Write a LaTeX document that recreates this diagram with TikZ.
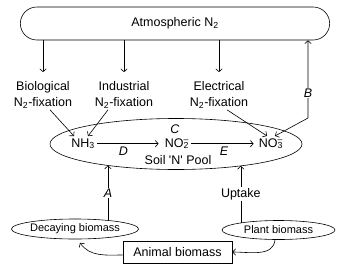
\documentclass[tikz,border=0pt]{standalone}
\usepackage{fontspec}
\setmainfont{Liberation Sans}
\usetikzlibrary{positioning, shapes.geometric, shapes.misc, arrows.meta}

\newcommand{\nox}[1]{NO\rlap{\textsuperscript{--}}\textsubscript{#1}}

\begin{document}
\begin{tikzpicture}[
  x=1pt, y=1pt,
  font=\fontsize{12.5}{16}\selectfont,
  line width=0.6pt,
  >={Straight Barb[length=3pt,width=6.5pt]},
  pool/.style={ellipse, draw, inner sep=0pt},
  small/.style={font=\fontsize{11}{13}\selectfont},
  fix/.style={align=center, inner sep=1pt},
  ion/.style={anchor=base, inner sep=2pt},
  arr/.style={->},
  gap/.style={fill=white, inner sep=1pt},
]
\useasboundingbox (0,0) rectangle (337,269);

\node[rounded rectangle, draw, minimum width=316, minimum height=33] (atm) at (175,245.5) {Atmospheric N\textsubscript{2}};

\node[fix] (bio) at (43,174) {Biological\\N\textsubscript{2}-fixation};
\node[fix] (ind) at (124,174) {Industrial\\N\textsubscript{2}-fixation};
\node[fix] (ele) at (219,174) {Electrical\\N\textsubscript{2}-fixation};

\foreach \n in {bio,ind,ele} \draw[arr] (atm.south -| \n) -- ([yshift=8pt]\n.north);

% soil pool
\node[pool, minimum width=252, minimum height=51] (soil) at (176,125) {};
\node[ion] (nh3) at (83,122) {NH\textsubscript{3}};
\node[ion] (no2) at (177,122) {\nox{2}};
\node[ion] (no3) at (271,122) {\nox{3}};
\node (c) at (175,140) {\textit{C}};
\node (pooltxt) at (178,109) {Soil \textquotesingle N\textquotesingle{} Pool};

\draw[arr, shorten >=4pt] (nh3.east) -- node[below, pos=0.4]{\textit{D}} (nh3.east -| no2.west);
\draw[arr, shorten >=3pt] (nh3.east -| no2.east) -- node[below]{\textit{E}} (nh3.east -| no3.west);

\draw[arr] ([xshift=7pt]bio.south) -- ([xshift=-9pt]nh3.north);
\draw[arr] ([xshift=-16pt]ind.south) -- ([xshift=5pt]nh3.north);
\draw[arr] ([xshift=8pt]ele.south) -- ([xshift=-4pt]no3.north);

\coordinate (bturn) at (308,151);
\draw[<->] ([xshift=4pt]no3.north) -- (bturn) -- node[gap, pos=0.32]{\textit{B}} (atm.south -| bturn);

% biomass
\node[pool, small, minimum width=124, minimum height=20] (decay) at (75,40) {Decaying biomass};
\node[pool, small, minimum width=113, minimum height=19] (plant) at (278.5,39) {Plant biomass};
\node[draw, minimum width=109, minimum height=22] (animal) at (177.5,17) {Animal biomass};

\draw[arr] (decay.15) -- node[gap]{\textit{A}} (decay.15 |- soil.197);
\draw[arr] (plant.169) -- node[gap]{Uptake} (plant.169 |- soil.-18);

\draw[arr] ([yshift=-3pt]animal.west) to[out=180, in=-55] ([xshift=5pt,yshift=-3.5pt]decay.south);
\draw[arr] ([xshift=-3.5pt]plant.south) to[out=-95, in=0] (animal.east);
\end{tikzpicture}
\end{document}
